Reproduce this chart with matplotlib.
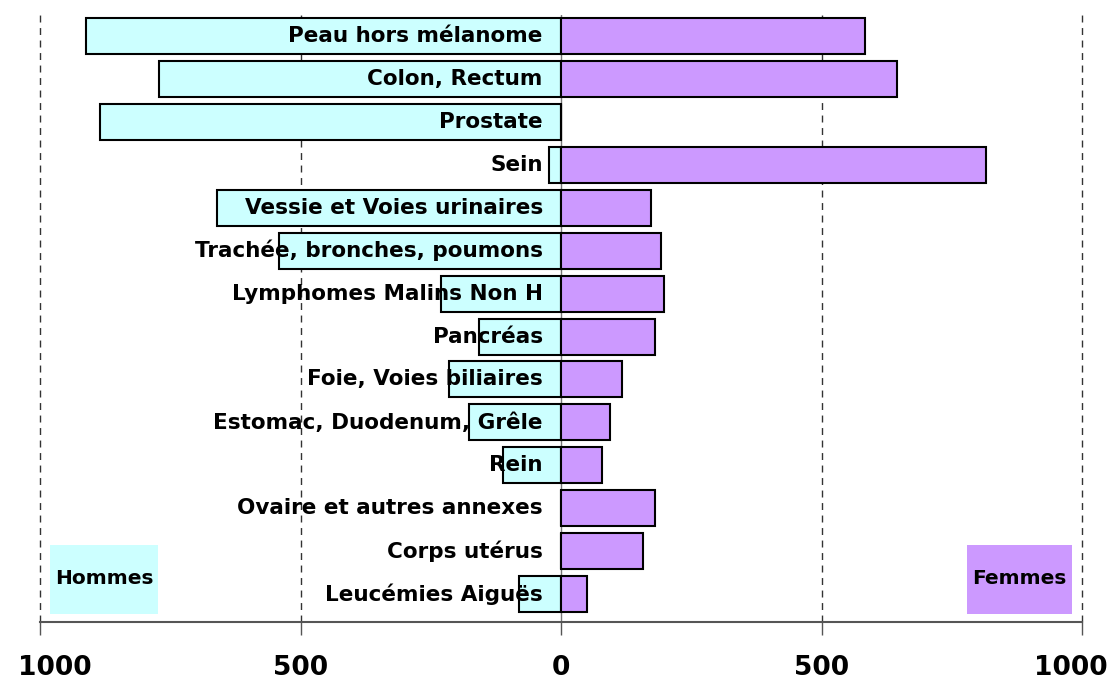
import matplotlib
matplotlib.use('Agg')
import matplotlib.pyplot as plt
from matplotlib.patches import Rectangle
from matplotlib.transforms import ScaledTranslation

categories = ["Peau hors mélanome", "Colon, Rectum", "Prostate", "Sein",
              "Vessie et Voies urinaires", "Trachée, bronches, poumons",
              "Lymphomes Malins Non H", "Pancréas", "Foie, Voies biliaires",
              "Estomac, Duodenum, Grêle", "Rein", "Ovaire et autres annexes",
              "Corps utérus", "Leucémies Aiguës"]
hommes = [912, 771, 884, 23, 660, 541, 230, 157, 215, 177, 111, 0, 0, 81]
femmes = [584, 645, 0, 816, 172, 191, 198, 180, 117, 94, 79, 180, 157, 49]
tick_values = [-1000, -500, 0, 500, 1000]
tick_labels = ["1000", "500", "0", "500", "1000"]
legend_labels = ["Hommes", "Femmes"]

col_h = '#CCFFFF'
col_f = '#CC99FF'

fig = plt.figure(figsize=(11.17, 6.81), dpi=100)
ax = fig.add_axes([40/1117, 59/681, 1042/1117, 607/681])

n = len(categories)
ypos = [n - 1 - i for i in range(n)]

ax.barh(ypos, [-v for v in hommes], height=0.84, color=col_h,
        edgecolor='black', linewidth=1.5, zorder=3)
ax.barh(ypos, femmes, height=0.84, color=col_f,
        edgecolor='black', linewidth=1.5, zorder=3)

for y, lab in zip(ypos, categories):
    ax.text(-35, y, lab, ha='right', va='center', fontsize=15.5,
            fontweight='bold', color='black', zorder=5)

for xv in [-1000, -500, 500, 1000]:
    ax.axvline(xv, color='#333333', lw=1, ls=(0, (5, 4)), zorder=1, clip_on=False)
ax.axvline(0, color='#777777', lw=1, zorder=2)

ax.set_xlim(-1000, 1000)
ax.set_ylim(-0.65, n - 1 + 0.49)
ax.set_xticks(tick_values)
ax.set_xticklabels(tick_labels, fontsize=19, fontweight='bold')
ax.set_yticks([])
ax.tick_params(axis='x', direction='out', length=9, width=1, color='#555555', pad=15)
for s in ['top', 'left', 'right']:
    ax.spines[s].set_visible(False)
ax.spines['bottom'].set_color('#555555')
ax.spines['bottom'].set_linewidth(1.5)

# shift end tick labels inward as in the reference
labels = ax.get_xticklabels()
labels[0].set_transform(labels[0].get_transform() + ScaledTranslation(15/100, 0, fig.dpi_scale_trans))
labels[-1].set_transform(labels[-1].get_transform() + ScaledTranslation(-11/100, 0, fig.dpi_scale_trans))

# legend boxes
boxes = [(-980, -773, col_h), (779, 981, col_f)]
for (x0, x1, c), lab in zip(boxes, legend_labels):
    ax.add_patch(Rectangle((x0, -0.46), x1 - x0, 1.6, facecolor=c,
                           edgecolor='none', zorder=4))
    ax.text((x0 + x1) / 2, 0.36, lab, ha='center', va='center', fontsize=14.5,
            fontweight='bold', zorder=5)

fig.savefig('out.png', dpi=100)
